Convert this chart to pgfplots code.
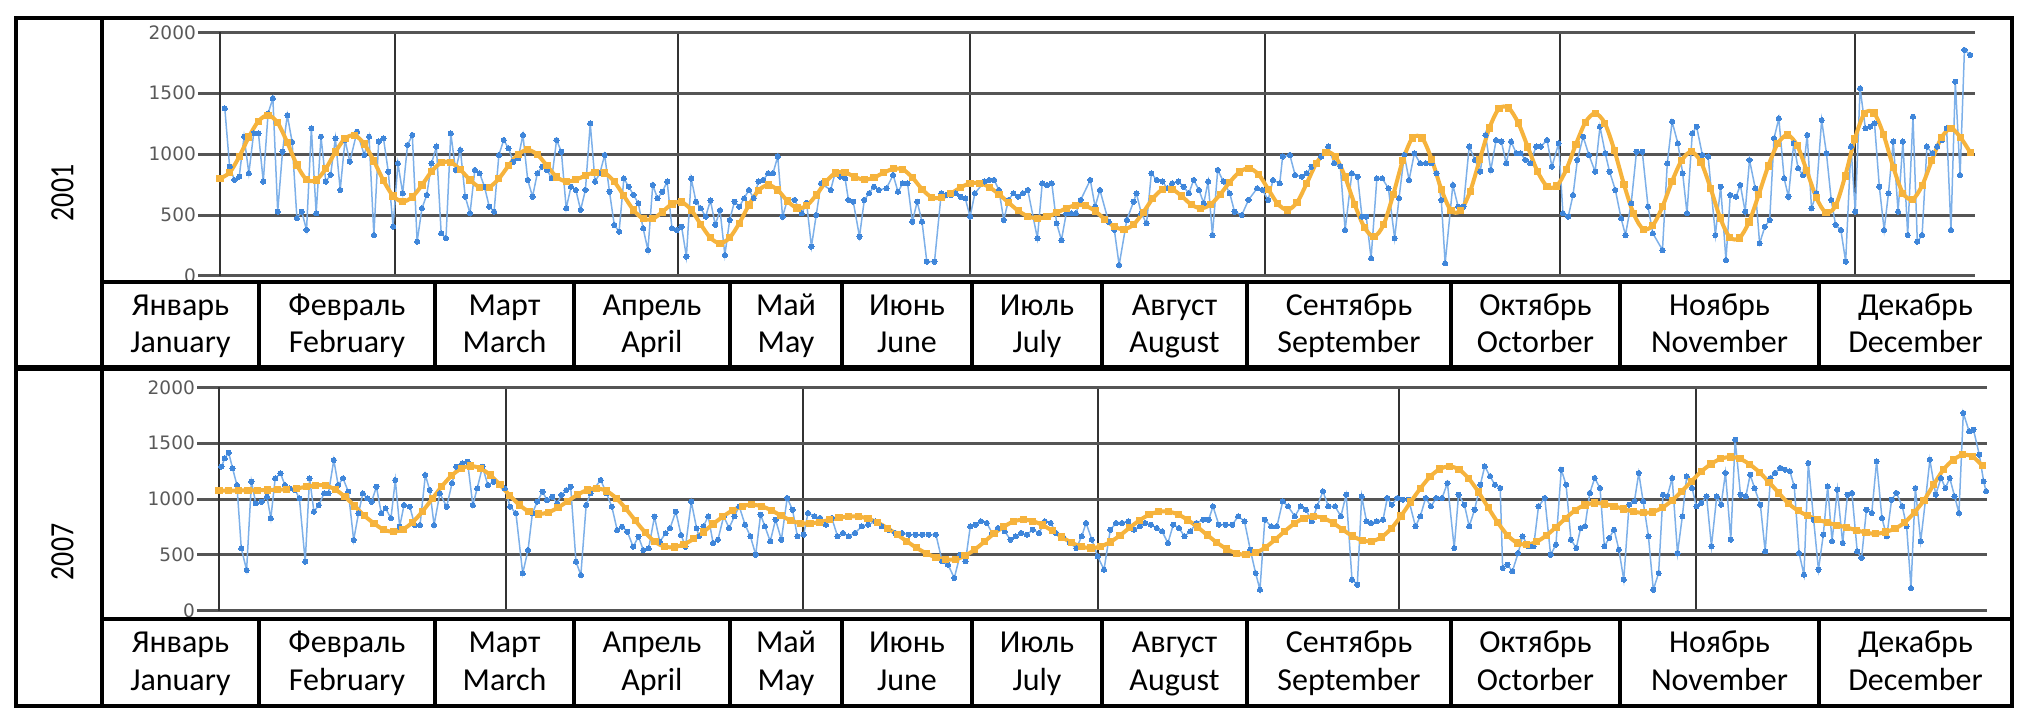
\documentclass[border=0pt]{standalone}
\usepackage{fontspec}
\setmainfont{Carlito}
\newfontfamily\monthfont{Carlito}
\newfontfamily\yearfont[FakeStretch=0.82]{Carlito}
\newfontfamily\tickfont{DejaVu Sans}
\usepackage{pgfplots}
\pgfplotsset{compat=1.18}
\definecolor{blueL}{HTML}{7DB0E9}
\definecolor{blueM}{HTML}{3F86DA}
\definecolor{orng}{HTML}{F6B33C}
\definecolor{gridc}{HTML}{555555}
\pgfplotsset{panel/.style={
  scale only axis,
  xmin=0, xmax=365, ymin=0, ymax=2000,
  axis x line*=bottom, axis y line*=left,
  x axis line style={draw=none},
  y axis line style={draw=black!80, line width=2.5pt},
  ytick={0,500,1000,1500,2000},
  xticklabels={},
  xtick style={draw=none},
  ytick style={draw=gridc, line width=3pt},
  tick align=outside,
  major tick length=22pt,
  xmajorgrids, ymajorgrids,
  major x grid style={draw=black!80, line width=2pt},
  major y grid style={draw=gridc, line width=3pt},
  yticklabel style={font=\tickfont\fontsize{18.5}{18.5}\selectfont, text=black!65, inner sep=2pt},
  /pgf/number format/assume math mode=true,
  /pgf/number format/1000 sep={},
},
blueser/.style={blueL, line width=1.5pt, mark=*, mark size=2.6pt, mark options={fill=blueM, draw=blueM, line width=0pt}},
orser/.style={orng, smooth, line width=4pt, mark=square*, mark size=3.1pt, mark options={fill=orng, draw=orng, line width=0pt}}
}
\begin{document}
\begin{tikzpicture}[x=1pt,y=1pt]
\path[use as bounding box] (0pt,0pt) rectangle (2042pt,724pt);
% ---------- 2001 ----------
\begin{axis}[panel, at={(220pt,448pt)}, anchor=south west, width=1755pt, height=243.7pt,
  xtick={36.4,95.3,156,217.4,278.7,340}]
\addplot[blueser] coordinates {
(1,1376)(2,897)(3,788)(4,815)(5,1144)(6,843)(7,1171)(8,1171)(9,775)(10,1335)
(11,1458)(12,528)(13,1020)(14,1320)(15,1100)(16,473)(17,528)(18,378)(19,1212)(20,514)
(21,1144)(22,775)(23,830)(24,1130)(25,706)(26,1116)(27,938)(28.5,1185)(30,993)(31,1144)
(32,336)(33,1103)(34,1130)(35,856)(36,405)(37,925)(38,679)(39,1075)(40,1157)(41,282)
(42,555)(43,665)(44,925)(45,1062)(46,350)(47,309)(48,1171)(49,870)(50,1034)(51,651)
(52,514)(53,870)(54,843)(55,733)(56,569)(57,528)(58,993)(59,1116)(60,1048)(61,938)
(62,966)(63,1157)(64,788)(65,651)(66,843)(67,897)(68,870)(69,801)(70,1116)(71,1020)
(72,555)(73,733)(74,706)(75,542)(76,706)(77,1253)(78,775)(79,843)(80,993)(81,692)
(82,419)(83,364)(84,801)(85,733)(86,665)(87,597)(88,391)(89,213)(90,747)(91,637)
(92,692)(93,775)(94,391)(95,378)(96,405)(97,159)(98,800)(99,610)(100,555)(101,487)
(102,620)(103,420)(104,540)(105,172)(106,460)(107,610)(108,569)(109,637)(110,706)(111,640)
(112,775)(113,788)(114,843)(115,843)(116,980)(117,487)(118,624)(119.5,624)(121,514)(122,600)
(123,241)(124,500)(125,760)(127,706)(128,856)(129,815)(130,801)(130.7,624)(131.7,610)(133,323)
(134,624)(135,679)(136,733)(137,706)(138.6,720)(140,829)(141,692)(142,760)(143,760)(144,446)
(145,610)(146,446)(147,118)(148.6,118)(150,679)(151,665)(152,665)(153,679)(154,651)(155,637)
(156,487)(157,679)(159,775)(160,788)(161,788)(162,706)(163,460)(164,624)(165,679)(166,651)
(167,679)(168,706)(170,309)(171,760)(172,747)(173,760)(174,432)(175,295)(176,514)(177,514)
(178,514)(179,624)(181,788)(182,569)(183,706)(184.8,446)(186,378)(187,90)(188.6,460)(190,610)
(190.6,679)(191.6,514)(192.7,432)(193.7,843)(194.8,788)(196,775)(197,720)(198,760)(199.3,775)(200.4,733)
(201.5,679)(202.5,788)(203.6,706)(204.6,597)(205.5,775)(206.4,336)(207.5,870)(208.7,775)(210,679)(211,528)
(212.5,500)(213.9,624)(215.7,720)(216.8,706)(218,624)(219,788)(220.4,760)(221,980)(222.5,993)(223.6,829)
(225,815)(226,843)(227,897)(228,925)(229,980)(230.5,1062)(231.7,925)(233,900)(234,378)(235.4,843)
(236.6,815)(237.5,487)(238.4,487)(239.4,145)(240.6,801)(241.7,801)(243,720)(244.3,309)(245.2,637)(246.3,993)
(247.3,788)(248.4,1007)(249.6,925)(250.8,925)(252,925)(253,843)(254,624)(254.8,104)(256.4,747)(257.5,569)
(258.6,569)(259.8,1062)(261,952)(262.1,856)(263.2,1157)(264.3,870)(265.4,1116)(266.5,1103)(267.5,925)(268.5,1103)
(269.6,1007)(270.5,1007)(271.5,952)(272.5,925)(273.7,1062)(274.7,1062)(276,1116)(277,897)(278.4,1089)(279.3,514)
(280.4,487)(281.4,665)(282.3,952)(283.5,1144)(284.7,993)(286,856)(287,1226)(288.1,1007)(289,856)(290.2,706)
(291.4,473)(292.3,336)(293.5,597)(294.6,1020)(295.8,1020)(297,569)(298,350)(300,213)(301,925)(302,1267)
(303.2,1089)(304.2,843)(305.1,514)(306.2,1171)(307.1,1226)(308.3,993)(309.5,980)(311,336)(312.1,733)(313.2,131)
(314.1,665)(315.3,651)(316.2,747)(317.2,528)(318.1,952)(319.3,720)(320.2,268)(321.3,405)(322.3,460)(323.2,1130)
(324.2,1294)(325.3,801)(326.2,651)(327.3,1089)(328.2,884)(329.2,829)(330.1,1157)(331,555)(332,679)(333.1,1280)
(334.1,1007)(335.1,624)(336,419)(337.1,378)(338.1,118)(339.2,1062)(340.1,528)(341.1,1540)(342.2,1212)(343.2,1226)
(344.1,1253)(345.1,733)(346.1,378)(347,679)(348,1103)(349,528)(350,1103)(351,336)(352.1,1308)(353,282)
(354,336)(355,1062)(356.1,1007)(357.1,1062)(358.2,1116)(359.1,1212)(360,378)(360.9,1595)(361.9,829)(362.8,1855)
(364,1814)
};
\addplot[orser] coordinates {
(0,800)(2,849)(4,979)(6,1141)(8,1271)(10,1320)(12,1257)(14,1095)(16,911)(18,791)
(20,788)(22,881)(24,1018)(26,1128)(28,1154)(30,1084)(32,944)(34,783)(36,657)(38,610)
(40,649)(42,746)(44,858)(46,930)(48,932)(50,872)(52,788)(54,728)(56,729)(58,799)
(60,905)(62,998)(64,1035)(66,997)(68,905)(70,813)(72,775)(74,790)(76,824)(78,851)
(80,846)(82,774)(84,658)(86,541)(88,470)(90,469)(92,526)(94,591)(96,607)(98,542)
(100,423)(102,313)(104,268)(106,314)(108,433)(110,582)(112,702)(114,747)(116,705)(118,616)
(120,558)(122,577)(124,664)(126,772)(128,846)(130,850)(132,813)(134,790)(136,808)(138,847)
(140,879)(142,875)(144,808)(146,713)(148,646)(150,642)(152,677)(154,726)(156,761)(158,762)
(160,729)(162,671)(164,602)(166,536)(168,490)(170,473)(172,486)(174,518)(176,556)(178,580)
(180,577)(182,533)(184,466)(186,406)(188,383)(190,422)(192,522)(194,636)(196,710)(198,712)
(200,656)(202,586)(204,555)(206,586)(208,669)(210,770)(212,853)(214,884)(216,834)(218,713)
(220,592)(222,542)(224,604)(226,759)(228,924)(230,1016)(232,978)(234,812)(236,586)(238,400)
(240,323)(242,421)(244,667)(246,949)(248,1132)(250,1133)(252,958)(254,713)(256,538)(258,535)
(260,695)(262,955)(264,1214)(266,1374)(268,1379)(270,1256)(272,1058)(274,859)(276,736)(278,738)
(280,874)(282,1081)(284,1263)(286,1335)(288,1254)(290,1031)(292,750)(294,511)(296,384)(298,417)
(300,569)(302,778)(304,949)(306,1020)(308,935)(310,721)(312,476)(314,317)(316,312)(318,443)
(320,666)(322,903)(324,1088)(326,1157)(328,1073)(330,865)(332,643)(334,520)(336,576)(338,821)
(340,1125)(342,1333)(344,1338)(346,1158)(348,892)(350,680)(352,629)(354,742)(356,945)(358,1134)
(360,1212)(362,1136)(364,1014)
};
\end{axis}
% ---------- 2007 ----------
\begin{axis}[panel, at={(219pt,113.3pt)}, anchor=south west, width=1768pt, height=223.4pt,
  xtick={59.2,120.5,181.5,243.6,304.9}]
\addplot[blueser] coordinates {
(0.5,1290)(1.2,1364)(2,1415)(2.8,1275)(3.7,1125)(4.6,558)(5.7,364)(6.7,1155)(7.6,961)(8.8,976)
(9.9,1021)(10.7,827)(11.6,1185)(12.7,1230)(13.6,1125)(14.6,1095)(15.7,1080)(16.6,1006)(17.8,439)(18.7,1185)
(19.6,887)(20.6,946)(21.7,1051)(22.6,1051)(23.7,1349)(24.6,1125)(25.6,1185)(26.7,1066)(27.8,633)(28.8,872)
(29.7,1051)(30.6,1006)(31.5,976)(32.5,1110)(33.5,872)(34.4,916)(35.5,827)(36.4,1170)(37.3,752)(38.2,946)
(39.4,931)(40.4,767)(41.5,767)(42.6,1215)(43.5,1080)(44.4,767)(45.6,1051)(47,931)(48.1,1140)(49,1290)
(50.2,1319)(51.3,1334)(52.4,946)(53.3,1095)(54.4,1290)(55.5,1125)(56.7,1155)(57.8,1125)(59,1095)(60.1,931)
(61.3,872)(62.7,334)(63.8,543)(64.7,872)(65.7,976)(66.8,1066)(67.7,991)(68.8,1021)(69.8,961)(70.7,1036)
(71.7,1080)(72.6,1110)(73.7,439)(74.7,319)(75.8,946)(76.7,1051)(78.8,1170)(80,1051)(81.1,931)(82.2,722)
(83.2,752)(84.3,707)(85.5,573)(86.6,663)(87.6,543)(88.7,558)(89.9,842)(91,618)(92.2,693)(93.1,737)
(94.3,887)(95.4,678)(96.3,573)(97.5,976)(98.6,737)(99.1,666)(100,755)(101,845)(102,606)(103,636)
(104.2,845)(105.3,740)(106.4,845)(107.4,934)(108.6,770)(109.7,666)(110.8,501)(111.8,860)(112.7,755)(113.8,621)
(114.9,815)(116.1,636)(117.3,1009)(118.4,904)(119.4,666)(120.7,681)(121.6,875)(122.9,845)(124.1,830)(125.3,770)
(126.5,830)(127.7,666)(128.8,696)(130,666)(131.3,696)(132.7,755)(134,770)(135.5,800)(136.8,755)(138.2,725)
(139.6,696)(141,696)(142.4,681)(143.8,681)(145.2,681)(146.5,681)(148,681)(149.3,442)(150.5,412)(151.8,293)
(153,501)(154.1,442)(155.1,755)(156.2,770)(157.3,800)(158.5,785)(159.6,696)(160.8,740)(162.2,710)(163.4,636)
(164.5,666)(165.6,696)(166.8,681)(168,725)(169.3,696)(170.5,800)(171.7,785)(172.8,696)(174.2,666)(175.6,606)
(177,561)(178.1,666)(179,785)(180.2,636)(181.4,487)(182.7,367)(184,725)(185.2,785)(186.4,785)(187.7,800)
(188.9,725)(190.1,755)(191.2,785)(192.4,770)(193.6,740)(194.7,710)(195.9,606)(197,770)(198.2,740)(199.3,666)
(200.5,710)(201.8,785)(203.2,815)(204.3,815)(205.2,934)(206.4,770)(207.8,770)(209.2,770)(210.4,845)(211.7,800)
(212.9,546)(214,337)(214.9,188)(215.9,815)(217.2,755)(218.4,755)(219.6,979)(220.7,934)(222.1,845)(223.3,934)
(224.4,904)(225.6,800)(226.7,934)(227.9,1069)(229,934)(230.4,934)(231.6,845)(232.7,1039)(233.9,278)(235,233)
(235.9,1024)(236.9,800)(237.8,785)(239,800)(240.3,815)(241.2,1009)(242.1,949)(243.3,1009)(244.4,994)(245.6,994)
(247,755)(248,845)(249.1,1009)(250.2,934)(251.3,1009)(252.5,1009)(253.6,1143)(255,561)(255.9,1039)(257.1,949)
(258.1,755)(259.2,904)(260.4,1128)(261.3,1293)(262.4,1203)(263.4,1128)(264.5,1098)(265,382)(266,412)(267,352)
(268.2,516)(269.1,666)(270.3,576)(271.4,576)(272.4,934)(273.7,1009)(274.9,501)(276,591)(277.1,1263)(278.1,1128)
(279.1,636)(280.2,561)(281.1,740)(282,755)(283,1054)(284,1188)(285.1,1098)(286,576)(287,651)(288,725)
(289,546)(290,278)(291.1,949)(292.2,979)(293.1,1233)(294,979)(295.1,666)(296.1,188)(297.2,337)(298.1,1039)
(299,1024)(300,1188)(301.1,516)(302.1,845)(303,1203)(304.1,1098)(305,934)(306,964)(307.1,1024)(308.1,576)
(309.2,1024)(310.1,949)(311,1233)(312.1,636)(313,1531)(314.1,1039)(315.2,1024)(316.1,1218)(317,1098)(318.2,949)
(319.2,531)(320.3,1188)(321.2,1233)(322.3,1278)(323.3,1263)(324.3,1248)(325.2,1113)(326.2,516)(327.2,322)(328.1,1322)
(329.2,815)(330.2,367)(331.2,681)(332.1,1113)(333,621)(334.1,1084)(335.2,606)(336.2,1039)(337.1,1054)(338.2,531)
(339.1,472)(340.1,904)(341.2,875)(342.2,1337)(343.3,830)(344.3,666)(345.3,994)(346.3,1054)(347.5,934)(348.4,755)
(349.3,203)(350.2,1098)(351.3,621)(352.3,994)(353.2,1352)(354.4,1039)(355.5,1188)(356.4,1098)(357.3,1188)(358.3,1024)
(359.2,875)(360.1,1770)(361.3,1606)(362.2,1621)(363.4,1397)(364.3,1158)(364.8,1069)
};
\addplot[orser] coordinates {
(0,1075)(2,1075)(4,1076)(6,1077)(8,1078)(10,1080)(12,1083)(14,1087)(16,1094)(18,1110)
(20,1123)(22,1120)(24,1085)(26,1020)(28,938)(30,851)(32,782)(34,725)(36,707)(38,729)
(40,793)(42,889)(44,1001)(46,1113)(48,1209)(50,1273)(52,1295)(54,1274)(56,1214)(58,1128)
(60,1033)(62,947)(64,887)(66,866)(68,881)(70,923)(72,981)(74,1038)(76,1080)(78,1095)
(80,1072)(82,1008)(84,913)(86,804)(88,699)(90,617)(92,573)(94,570)(96,595)(98,643)
(100,705)(102,776)(104,842)(106,898)(108,936)(110,949)(112,936)(114,899)(116,852)(118,809)
(120,783)(122,782)(124,793)(126,813)(128,832)(130,843)(132,843)(134,824)(136,788)(138,739)
(140,681)(142,621)(144,563)(146,514)(148,478)(150,459)(152,461)(154,491)(156,547)(158,617)
(160,691)(162,751)(164,799)(166,815)(168,802)(170,767)(172,716)(174,660)(176,609)(178,574)
(180,561)(182,575)(184,615)(186,674)(188,743)(190,808)(192,859)(194,886)(196,887)(198,862)
(200,812)(202,749)(204,678)(206,610)(208,553)(210,514)(212,501)(214,518)(216,566)(218,635)
(220,711)(222,780)(224,828)(226,845)(228,829)(230,785)(232,725)(234,668)(236,630)(238,622)
(240,659)(242,736)(244,847)(246,973)(248,1094)(250,1199)(252,1268)(254,1292)(256,1264)(258,1183)
(260,1063)(262,924)(264,789)(266,676)(268,607)(270,592)(272,617)(274,673)(276,747)(278,827)
(280,900)(282,947)(284,964)(286,956)(288,936)(290,910)(292,887)(294,876)(296,884)(298,923)
(300,988)(302,1070)(304,1159)(306,1246)(308,1313)(310,1360)(312,1376)(314,1360)(316,1310)(318,1240)
(320,1150)(322,1054)(324,960)(326,895)(328,850)(330,815)(332,790)(334,765)(336,746)(338,720)
(340,700)(342,688)(344,705)(346,735)(348,790)(350,880)(352,990)(354,1130)(356,1263)(358,1350)
(360,1395)(362,1380)(364,1300)
};
\end{axis}
% ---------- frame and table ----------
\draw[line width=4.5pt] (16pt,18pt) rectangle (2012pt,706pt);
\draw[line width=4pt] (102pt,18pt) -- (102pt,706pt);
\draw[line width=6pt] (16pt,356pt) -- (2012pt,356pt);
\draw[line width=3.5pt] (102pt,442pt) -- (2012pt,442pt);
\draw[line width=3.5pt] (102pt,105pt) -- (2012pt,105pt);
\foreach \x in {259,435,574,730,842,972,1102,1247,1451,1620,1819} {
  \draw[line width=3.5pt] (\x pt,442pt) -- (\x pt,356pt);
  \draw[line width=3.5pt] (\x pt,105pt) -- (\x pt,18pt);
}
\foreach \c/\ru/\en in {180.5/Январь/January, 347/Февраль/February, 504.5/Март/March,
  652/Апрель/April, 786/Май/May, 907/Июнь/June, 1037/Июль/July, 1174.5/Август/August,
  1349/Сентябрь/September, 1535.5/Октябрь/Octorber, 1719.5/Ноябрь/November, 1915.5/Декабрь/December} {
  \node[anchor=base, inner sep=0pt, font=\monthfont\fontsize{32}{32}\selectfont] at (\c pt,409pt) {\ru};
  \node[anchor=base, inner sep=0pt, font=\monthfont\fontsize{32}{32}\selectfont] at (\c pt,371pt) {\en};
  \node[anchor=base, inner sep=0pt, font=\monthfont\fontsize{32}{32}\selectfont] at (\c pt,72pt) {\ru};
  \node[anchor=base, inner sep=0pt, font=\monthfont\fontsize{32}{32}\selectfont] at (\c pt,34pt) {\en};
}
\node[rotate=90, inner sep=0pt, font=\yearfont\fontsize{34}{34}\selectfont] at (62.5pt,531pt) {2001};
\node[rotate=90, inner sep=0pt, font=\yearfont\fontsize{34}{34}\selectfont] at (62.5pt,172pt) {2007};
\end{tikzpicture}
\end{document}
